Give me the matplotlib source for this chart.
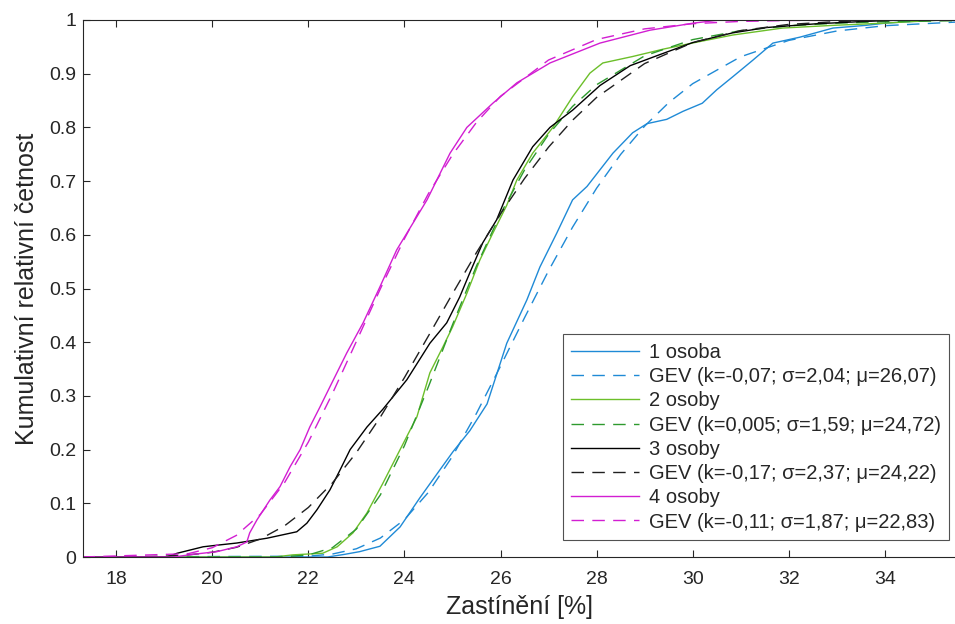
import matplotlib
matplotlib.use("Agg")
import matplotlib.pyplot as plt

plt.rcParams['font.family'] = ['Liberation Sans', 'DejaVu Sans']

# ---- data ----
# 1 osoba (empirical CDF)
x_e1 = [17.3, 22.4, 22.76, 23.07, 23.49, 23.91, 24.32, 24.64, 25.01, 25.36, 25.72, 26.13,
        26.55, 26.82, 27.17, 27.5, 27.8, 28.34, 28.75, 29.05, 29.46, 29.8, 30.2, 30.5,
        30.83, 31.25, 31.67, 32.23, 32.92, 33.6, 34.0, 35.0, 35.5]
y_e1 = [0.0, 0.0, 0.005, 0.01, 0.02, 0.056, 0.11, 0.15, 0.196, 0.235, 0.285, 0.398,
        0.479, 0.54, 0.603, 0.665, 0.69, 0.752, 0.79, 0.807, 0.815, 0.83, 0.845, 0.87,
        0.894, 0.925, 0.957, 0.968, 0.985, 0.99, 0.994, 1.0, 1.0]
# GEV fit 1 osoba
x_g1 = [17.3, 22.0, 22.5, 23.0, 23.5, 24.0, 24.5, 25.0, 25.5, 26.0, 26.5, 27.0, 27.5, 28.0,
        28.5, 29.0, 29.5, 30.0, 31.0, 32.0, 33.0, 34.0, 35.5]
y_g1 = [0.0, 0.0015, 0.0055, 0.0153, 0.0353, 0.0696, 0.1205, 0.1875, 0.2675, 0.3553,
        0.4455, 0.5331, 0.6142, 0.6868, 0.7496, 0.8024, 0.846, 0.8814, 0.9316, 0.962,
        0.9795, 0.9894, 0.9962]

# 2 osoby (empirical CDF)
x_e2 = [17.3, 21.3, 21.68, 22.3, 22.6, 22.93, 23.22, 23.55, 23.91, 24.26, 24.53, 24.8,
        25.0, 25.3, 25.57, 25.84, 26.13, 26.34, 26.67, 27.09, 27.5, 27.86, 28.13, 28.75,
        29.4, 30.1, 30.83, 31.87, 32.92, 33.95, 35.2, 35.5]
y_e2 = [0.0, 0.0, 0.004, 0.007, 0.019, 0.045, 0.082, 0.137, 0.2, 0.261, 0.343, 0.391,
        0.428, 0.491, 0.553, 0.603, 0.655, 0.702, 0.752, 0.8, 0.857, 0.901, 0.92, 0.932,
        0.946, 0.959, 0.972, 0.985, 0.99, 0.994, 1.0, 1.0]
# GEV fit 2 osoby
x_g2 = [17.3, 21.0, 21.5, 22.0, 22.5, 23.0, 23.5, 24.0, 24.5, 25.0, 25.5, 26.0, 26.5, 27.0,
        27.5, 28.0, 29.0, 30.0, 31.0, 32.0, 33.0, 34.0, 35.5]
y_g2 = [0.0, 0.0, 0.0005, 0.0038, 0.0173, 0.0519, 0.1157, 0.2073, 0.3171, 0.4323, 0.542,
        0.639, 0.7207, 0.787, 0.8391, 0.8795, 0.9333, 0.9635, 0.9802, 0.9892, 0.9942,
        0.9968, 0.9987]

# 3 osoby (empirical CDF)
x_e3 = [17.3, 19.06, 19.27, 19.81, 20.1, 20.51, 21.14, 21.76, 21.97, 22.18, 22.45, 22.66,
        22.87, 23.22, 23.55, 24.05, 24.53, 24.88, 25.15, 25.36, 25.63, 25.92, 26.26, 26.67,
        27.03, 27.5, 28.07, 28.7, 29.3, 30.0, 30.83, 31.54, 32.58, 33.5, 34.3, 35.5]
y_e3 = [0.0, 0.0, 0.007, 0.019, 0.022, 0.026, 0.035, 0.047, 0.063, 0.088, 0.125, 0.162,
        0.2, 0.242, 0.275, 0.33, 0.398, 0.436, 0.484, 0.529, 0.585, 0.628, 0.702, 0.764,
        0.8, 0.832, 0.878, 0.915, 0.935, 0.958, 0.976, 0.986, 0.993, 0.997, 1.0, 1.0]
# GEV fit 3 osoby
x_g3 = [17.3, 18.0, 19.0, 19.5, 20.0, 20.5, 21.0, 21.5, 22.0, 22.5, 23.0, 23.5, 24.0, 24.5,
        25.0, 25.5, 26.0, 26.5, 27.0, 27.5, 28.0, 29.0, 30.0, 31.0, 32.0, 33.0, 34.0, 35.5]
y_g3 = [0.0, 0.0002, 0.0015, 0.0039, 0.0088, 0.018, 0.0335, 0.0577, 0.0922, 0.1377, 0.1944,
        0.2607, 0.334, 0.4117, 0.4902, 0.5669, 0.639, 0.7048, 0.7632, 0.8134, 0.8558,
        0.9189, 0.958, 0.9803, 0.9918, 0.9971, 0.9992, 1.0]

# 4 osoby (empirical CDF)
x_e4 = [17.3, 19.2, 19.6, 20.1, 20.51, 20.72, 20.78, 20.93, 21.2, 21.41, 21.62, 21.83,
        22.03, 22.24, 22.45, 22.8, 23.14, 23.49, 23.84, 24.18, 24.47, 24.95, 25.3, 25.84,
        26.34, 27.03, 28.07, 29.11, 30.0, 30.56, 35.5]
y_e4 = [0.0, 0.0, 0.005, 0.01, 0.019, 0.028, 0.045, 0.069, 0.106, 0.131, 0.168, 0.2,
        0.242, 0.279, 0.317, 0.38, 0.436, 0.503, 0.572, 0.622, 0.665, 0.752, 0.8, 0.845,
        0.883, 0.92, 0.957, 0.981, 0.994, 1.0, 1.0]
# GEV fit 4 osoby
x_g4 = [17.3, 19.5, 20.0, 20.5, 21.0, 21.5, 22.0, 22.5, 23.0, 23.5, 24.0, 24.5, 25.0, 25.5,
        26.0, 27.0, 28.0, 29.0, 30.0, 31.0, 32.0, 34.0, 35.5]
y_g4 = [0.0, 0.0062, 0.0173, 0.0401, 0.0793, 0.1377, 0.214, 0.304, 0.4014, 0.4996, 0.5927,
        0.6767, 0.7489, 0.8094, 0.858, 0.9255, 0.9637, 0.9835, 0.9931, 0.9974, 0.9991,
        0.9999, 1.0]

labels = ['1 osoba', 'GEV (k=-0,07; σ=2,04; μ=26,07)',
          '2 osoby', 'GEV (k=0,005; σ=1,59; μ=24,72)',
          '3 osoby', 'GEV (k=-0,17; σ=2,37; μ=24,22)',
          '4 osoby', 'GEV (k=-0,11; σ=1,87; μ=22,83)']
x_ticks = [18, 20, 22, 24, 26, 28, 30, 32, 34]
y_ticks = [0, 0.1, 0.2, 0.3, 0.4, 0.5, 0.6, 0.7, 0.8, 0.9, 1]
y_ticklabels = ['0', '0.1', '0.2', '0.3', '0.4', '0.5', '0.6', '0.7', '0.8', '0.9', '1']

# ---- styling ----
c_blue = '#1f8ad6'
c_green = '#6cbf2a'
c_green_d = '#2e9a2e'
c_black = '#000000'
c_black_d = '#202020'
c_mag = '#d21ed2'
lw = 1.0
dash = (0, (9, 6))
txt_c = '#262626'

fig = plt.figure(figsize=(9.55, 6.24), dpi=100)
ax = fig.add_axes([83 / 955, 67 / 624, 1 - 83 / 955, 537 / 624])

ax.plot(x_e1, y_e1, color=c_blue, lw=lw, label=labels[0])
ax.plot(x_g1, y_g1, color=c_blue, lw=lw, linestyle=dash, label=labels[1])
ax.plot(x_e2, y_e2, color=c_green, lw=lw, label=labels[2])
ax.plot(x_g2, y_g2, color=c_green_d, lw=lw, linestyle=dash, label=labels[3])
ax.plot(x_e3, y_e3, color=c_black, lw=lw, label=labels[4])
ax.plot(x_g3, y_g3, color=c_black_d, lw=lw, linestyle=dash, label=labels[5])
ax.plot(x_e4, y_e4, color=c_mag, lw=lw, label=labels[6])
ax.plot(x_g4, y_g4, color=c_mag, lw=lw, linestyle=dash, label=labels[7])

ax.set_xlim(17.31, 35.46)
ax.set_ylim(0, 1)
ax.set_xticks(x_ticks)
ax.set_yticks(y_ticks)
ax.set_yticklabels(y_ticklabels)

for s in ['left', 'bottom', 'top']:
    ax.spines[s].set_color(txt_c)
    ax.spines[s].set_linewidth(0.8)
ax.spines['right'].set_visible(False)
ax.tick_params(direction='in', length=5, width=0.8, color=txt_c,
               labelcolor=txt_c, labelsize=14, top=True, right=False)
ax.tick_params(axis='x', pad=10)
ax.tick_params(axis='y', pad=5)

ax.set_xlabel('Zastínění [%]', fontsize=18, color=txt_c, labelpad=5)
ax.set_ylabel('Kumulativní relativní četnost', fontsize=18, color=txt_c, labelpad=7)

leg = ax.legend(loc='lower right', bbox_to_anchor=(866 / 872, (557 - 540) / 537),
                fontsize=14.5, frameon=True, fancybox=False, handlelength=3.4,
                handletextpad=0.45, labelspacing=0.26, borderpad=0.42, borderaxespad=0)
leg.get_frame().set_edgecolor(txt_c)
leg.get_frame().set_linewidth(0.8)
for t in leg.get_texts():
    t.set_color(txt_c)

fig.savefig('out.png', dpi=100)
